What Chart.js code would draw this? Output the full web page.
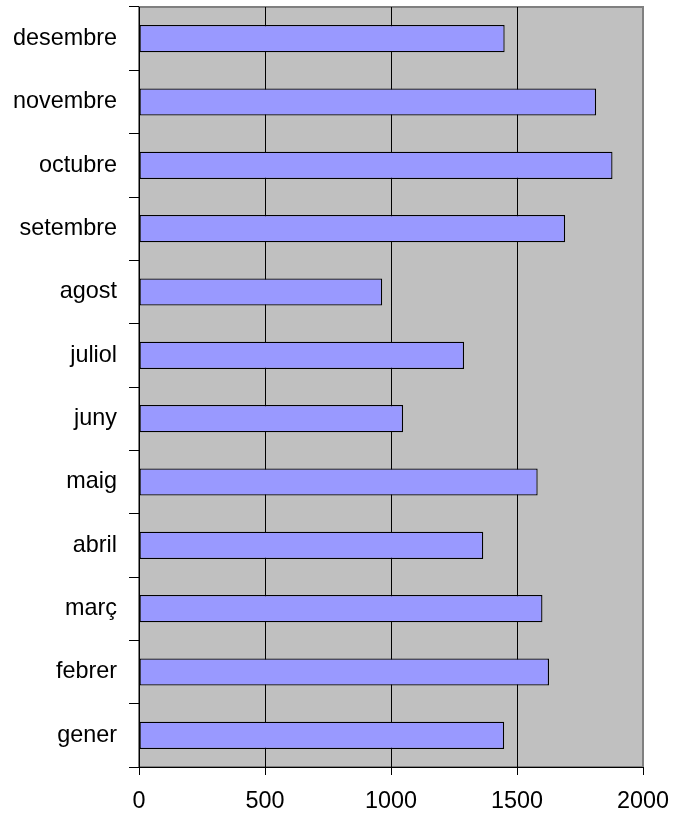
<!doctype HTML>
<html lang="ca">
<head>
    <meta charset=utf-8>
    <title>Mesos</title>
    <style type="text/css">
        * {
            padding: 0;
            margin: 0;
        }

        div {
            width: 686px;
            height: 816px;
        }
    </style>
    <script src="https://cdn.jsdelivr.net/npm/chart.js"></script>
</head>
<body>
    <div>
        <canvas id="mesosChart"></canvas>
    </div>

    <script type="text/javascript">
        const mesos = [
            'gener', 'febrer', 'març', 'abril', 'maig', 'juny',
            'juliol', 'agost', 'setembre', 'octubre', 'novembre', 'desembre'
        ];
        const valors = [1449, 1627, 1601, 1366, 1582, 1048, 1290, 965, 1691, 1879, 1814, 1451];
        const xTicks = [0, 500, 1000, 1500, 2000];

        const font = { family: "'Liberation Sans', Arial, sans-serif", size: 23.4 };

        // grey plot area with a darker frame, drawn before the axes and bars
        const plotArea = {
            id: 'plotArea',
            beforeDraw(chart) {
                const { ctx, chartArea: a } = chart;
                ctx.save();
                ctx.fillStyle = '#c0c0c0';
                ctx.fillRect(a.left, a.top, a.right - a.left, a.bottom - a.top);
                ctx.strokeStyle = '#808080';
                ctx.lineWidth = 2;
                ctx.strokeRect(a.left, a.top, a.right - a.left, a.bottom - a.top);
                ctx.restore();
            }
        };

        const data = {
            labels: mesos,
            datasets: [{
                data: valors,
                backgroundColor: '#9999ff',
                borderColor: '#000000',
                borderWidth: 1.3,
                borderSkipped: false,
                barPercentage: 0.43,
                categoryPercentage: 1
            }]
        };

        const config = {
            type: 'bar',
            data,
            options: {
                indexAxis: 'y',
                responsive: true,
                maintainAspectRatio: false,
                animation: false,
                layout: { padding: { top: 7, right: 43, left: 0, bottom: 0 } },
                plugins: {
                    legend: { display: false },
                    tooltip: { enabled: false }
                },
                scales: {
                    x: {
                        min: 0,
                        max: 2000,
                        afterBuildTicks(scale) {
                            scale.ticks = xTicks.map(v => ({ value: v }));
                        },
                        afterFit(scale) { scale.height = 49; },
                        border: { color: '#000000', width: 1 },
                        grid: {
                            color: ctx => (ctx.tick && ctx.tick.value === 2000) ? 'rgba(0,0,0,0)' : '#000000',
                            tickColor: '#000000',
                            tickLength: 8,
                            lineWidth: 1
                        },
                        ticks: {
                            color: '#000000',
                            font,
                            padding: 13,
                            maxRotation: 0,
                            callback: v => String(v)
                        }
                    },
                    y: {
                        reverse: true,
                        afterFit(scale) {
                            scale.width = 139;
                            scale.paddingTop = 0;
                            scale.paddingBottom = 0;
                        },
                        border: { color: '#000000', width: 1 },
                        grid: {
                            offset: true,
                            drawOnChartArea: false,
                            tickColor: '#000000',
                            tickLength: 10
                        },
                        ticks: {
                            color: '#000000',
                            font,
                            padding: 12
                        }
                    }
                }
            },
            plugins: [plotArea]
        };

        new Chart(document.getElementById('mesosChart'), config);
    </script>
</body>
</html>
